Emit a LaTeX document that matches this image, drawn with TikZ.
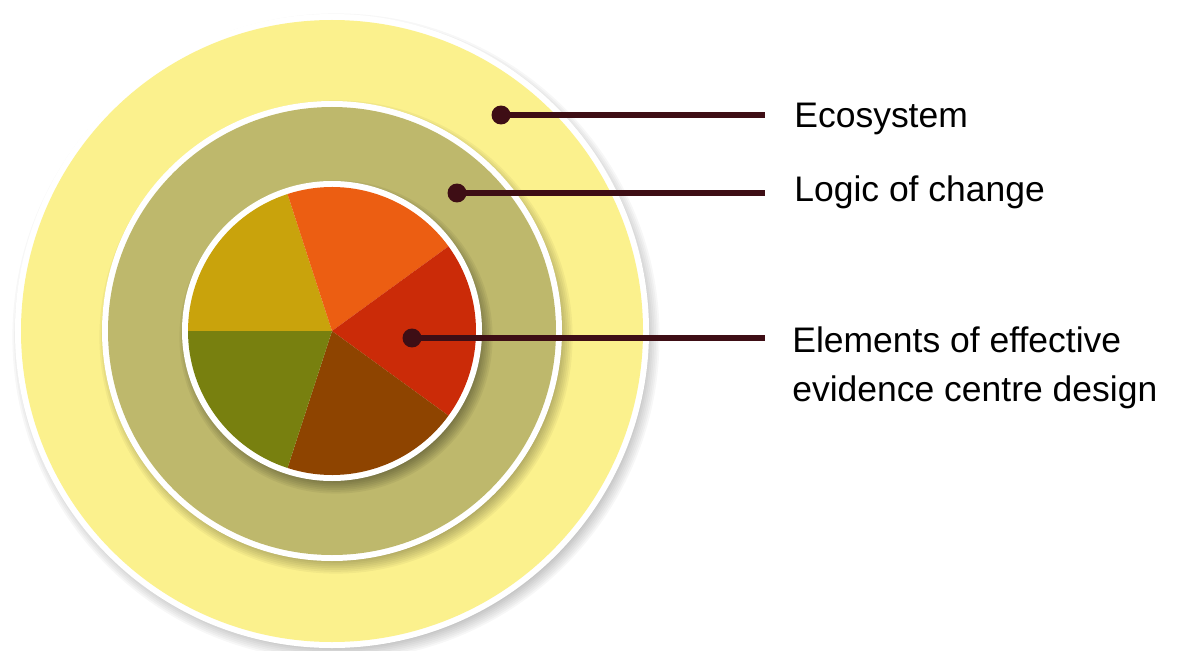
\documentclass[tikz,border=0pt]{standalone}
\usepackage{fontspec}
\setmainfont{Liberation Sans}
\usetikzlibrary{positioning}

\definecolor{ecoyellow}{RGB}{251,241,141}
\definecolor{logicolive}{RGB}{190,184,108}
\definecolor{slicegold}{RGB}{201,163,12}
\definecolor{sliceorange}{RGB}{236,94,18}
\definecolor{slicered}{RGB}{203,43,8}
\definecolor{slicebrown}{RGB}{142,68,0}
\definecolor{slicegreen}{RGB}{120,128,15}
\definecolor{leadercol}{RGB}{62,14,21}

\begin{document}
\begin{tikzpicture}[x=0.02cm,y=0.02cm,
                    leader/.style={draw=leadercol,line width=3.1pt},
                    dot/.style={circle,fill=leadercol,inner sep=0pt,minimum size=10.8pt},
                    tag/.style={anchor=base west,inner sep=0pt,align=left,
                                font=\fontsize{20.2}{27.4}\selectfont}]

  \useasboundingbox (0,0) rectangle (1183,650);
  \coordinate (C) at (332,319);

  % soft shadows and rings, outside in
  \foreach \r/\fillcol/\op in {311/ecoyellow/.03,224/logicolive/.04,144/white/.05}{
    \foreach \k in {0,...,7}
      \fill[black,opacity=\op] ([shift={(4,-6)}]C) circle ({\r+\k*1.8});
    \fill[white] (C) circle ({\r+6});
    \fill[\fillcol] (C) circle (\r);
  }

  % pie of five elements
  \foreach \a/\col in {108/slicegold,36/sliceorange,-36/slicered,
                       -108/slicebrown,180/slicegreen}
    \fill[\col] (C) -- ++(\a:144) arc (\a:\a+72:144) -- cycle;

  \node[dot] (ecoDot)   at (501,535) {};
  \node[dot] (logicDot) at (457,457) {};
  \node[dot] (elemDot)  at (412,312) {};

  \coordinate (ecoEnd)   at (765,535);
  \coordinate (logicEnd) at (765,457);
  \coordinate (elemEnd)  at (765,312);

  \node[tag] (ecoText)   at (794,522) {Ecosystem};
  \node[tag] (logicText) at (794,448) {Logic of change};
  \node[tag] (elemText)  at (792,249)
        {Elements of effective\\evidence centre design};

  \path[leader] (ecoDot.center)   edge (ecoEnd)
                (logicDot.center) edge (logicEnd)
                (elemDot.center)  edge (elemEnd);
\end{tikzpicture}
\end{document}
